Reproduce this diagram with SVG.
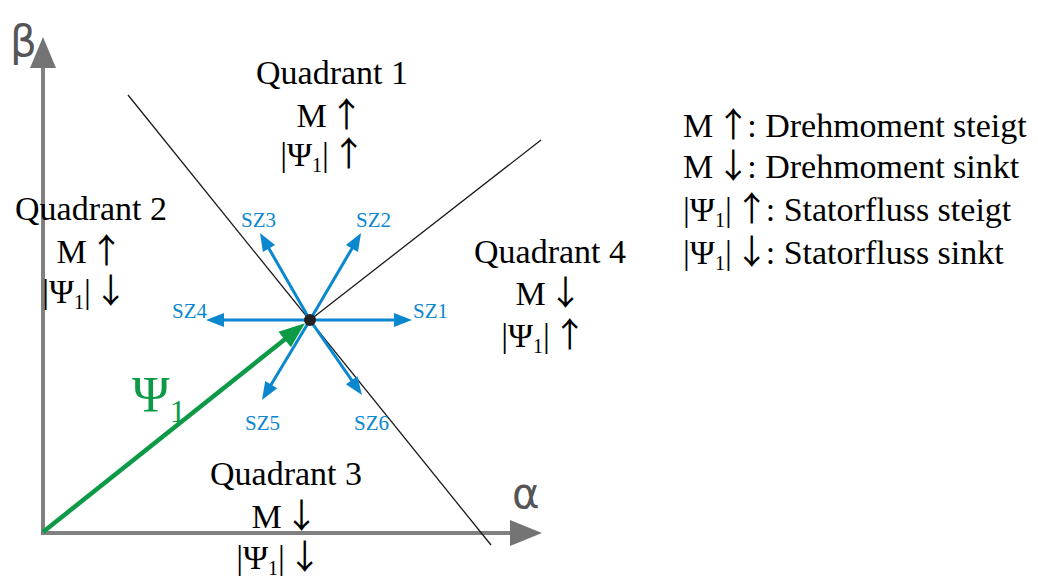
<svg xmlns="http://www.w3.org/2000/svg" width="1038" height="578" viewBox="0 0 1038 578">
<style>
.t{font-family:"Liberation Serif","Times New Roman",serif;font-size:34px;fill:#000}
.m{text-anchor:middle}
.sub{font-size:20px}
.ar{font-family:"Noto Sans CJK JP","Noto Sans CJK SC","DejaVu Sans",sans-serif}
.sz{font-family:"Liberation Serif","Times New Roman",serif;font-size:21px;fill:#0a87cf}
.ax{stroke:#808080;stroke-width:4;fill:none}
.axh{fill:#747474}
.axl{font-family:"DejaVu Sans","Liberation Sans",sans-serif;font-size:42px;fill:#555}
.bl{stroke:#1a1a1a;stroke-width:1.3;fill:none}
.sv{stroke:#0a87cf;stroke-width:3;fill:none;marker-end:url(#ab)}
.gv{stroke:#0c9a47;stroke-width:4.5;fill:none;marker-end:url(#ag)}
</style>
<defs>
<marker id="ab" markerUnits="userSpaceOnUse" markerWidth="20" markerHeight="16" refX="10" refY="7" orient="auto" overflow="visible">
<path d="M0,0 L18,7 L0,14 z" fill="#0a87cf"/>
</marker>
<marker id="ag" markerUnits="userSpaceOnUse" markerWidth="28" markerHeight="22" refX="14" refY="10" orient="auto" overflow="visible">
<path d="M0,0 L26,10 L0,20 z" fill="#0c9a47"/>
</marker>
</defs>

<g id="axes">
<line class="ax" x1="43" y1="535" x2="43" y2="60"/>
<polygon class="axh" points="43,37 30,68 56,68"/>
<line class="ax" x1="41" y1="533" x2="520" y2="533"/>
<polygon class="axh" points="542,533 510,520 510,546"/>
<text class="axl" x="10" y="56">β</text>
<text class="axl" x="512" y="508">α</text>
</g>

<g id="connectors">
<line class="bl" x1="128" y1="95" x2="491" y2="545"/>
<line class="bl" x1="310" y1="320" x2="541" y2="140"/>
<line class="gv" x1="43" y1="532" x2="295.6" y2="330.8"/>
<line class="sv" x1="310" y1="320" x2="404" y2="320"/>
<line class="sv" x1="310" y1="320" x2="214" y2="320"/>
<line class="sv" x1="310" y1="320" x2="357" y2="239.9"/>
<line class="sv" x1="310" y1="320" x2="264" y2="239.9"/>
<line class="sv" x1="310" y1="320" x2="266.1" y2="393.1"/>
<line class="sv" x1="310" y1="320" x2="357.4" y2="388.4"/>
</g>

<g id="center"><circle cx="310" cy="320" r="6" fill="#222"/></g>

<g id="sz-labels">
<text class="sz" x="413" y="318">SZ1</text>
<text class="sz" x="356" y="227">SZ2</text>
<text class="sz" x="241" y="227">SZ3</text>
<text class="sz" x="172" y="318">SZ4</text>
<text class="sz" x="245" y="430">SZ5</text>
<text class="sz" x="354" y="430">SZ6</text>
</g>

<g id="psi1-label">
<text x="132" y="411" font-family="Liberation Serif,'Times New Roman',serif" font-size="51" fill="#0c9a47">Ψ<tspan font-size="32" dy="11">1</tspan></text>
</g>

<g id="quadrant1">
<text class="t m" x="332" y="84">Quadrant 1</text>
<text class="t m" x="330" y="127">M<tspan class="ar" dx="3">↑</tspan></text>
<text class="t m" x="323" y="166">|Ψ<tspan class="sub" dy="6">1</tspan><tspan dy="-6">|</tspan><tspan class="ar" dx="3">↑</tspan></text>
</g>

<g id="quadrant2">
<text class="t m" x="91" y="220">Quadrant 2</text>
<text class="t m" x="90" y="263">M<tspan class="ar" dx="3">↑</tspan></text>
<text class="t m" x="85" y="303">|Ψ<tspan class="sub" dy="6">1</tspan><tspan dy="-6">|</tspan><tspan class="ar" dx="3">↓</tspan></text>
</g>

<g id="quadrant3">
<text class="t m" x="286" y="485">Quadrant 3</text>
<text class="t m" x="285" y="528">M<tspan class="ar" dx="3">↓</tspan></text>
<text class="t m" x="279" y="569">|Ψ<tspan class="sub" dy="6">1</tspan><tspan dy="-6">|</tspan><tspan class="ar" dx="3">↓</tspan></text>
</g>

<g id="quadrant4">
<text class="t m" x="550" y="263">Quadrant 4</text>
<text class="t m" x="549" y="305">M<tspan class="ar" dx="3">↓</tspan></text>
<text class="t m" x="544" y="347">|Ψ<tspan class="sub" dy="6">1</tspan><tspan dy="-6">|</tspan><tspan class="ar" dx="3">↑</tspan></text>
</g>

<g id="legend">
<text class="t" x="683" y="137">M<tspan class="ar" dx="3">↑</tspan><tspan dx="-3">: Drehmoment steigt</tspan></text>
<text class="t" x="683" y="178">M<tspan class="ar" dx="3">↓</tspan><tspan dx="-3">: Drehmoment sinkt</tspan></text>
<text class="t" x="683" y="221">|Ψ<tspan class="sub" dy="6">1</tspan><tspan dy="-6">|</tspan><tspan class="ar" dx="3">↑</tspan><tspan dx="-3">: Statorfluss steigt</tspan></text>
<text class="t" x="683" y="264">|Ψ<tspan class="sub" dy="6">1</tspan><tspan dy="-6">|</tspan><tspan class="ar" dx="3">↓</tspan><tspan dx="-3">: Statorfluss sinkt</tspan></text>
</g>
</svg>
